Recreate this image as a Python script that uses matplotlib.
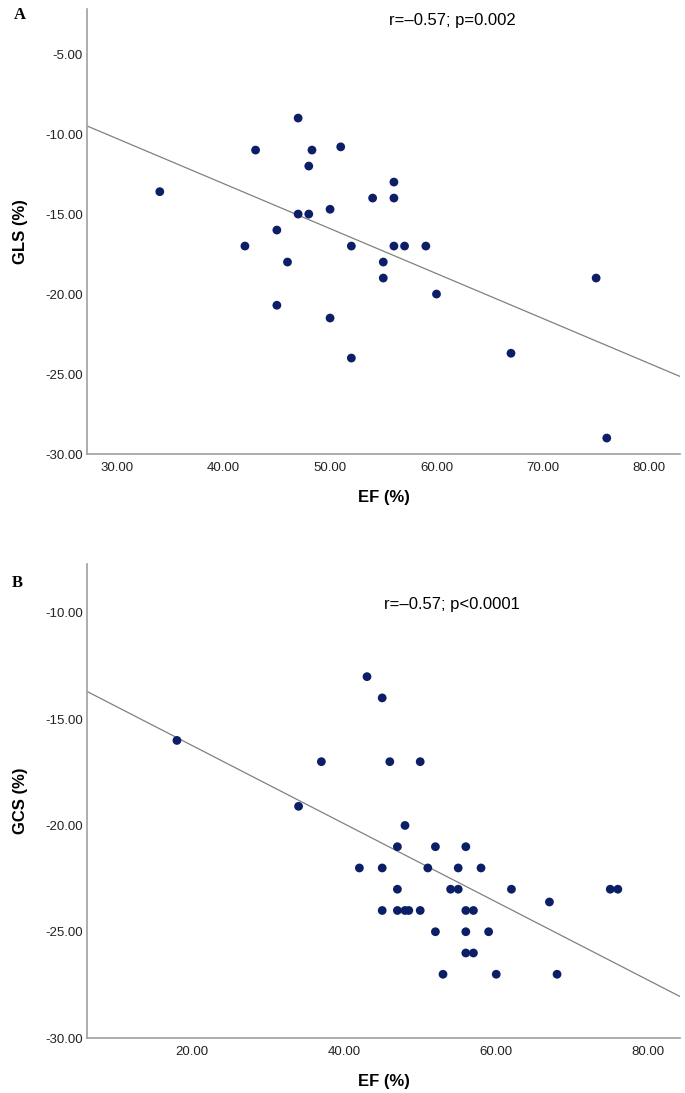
import numpy as np
import matplotlib
matplotlib.use("Agg")
import matplotlib.pyplot as plt

# Panel A: EF vs GLS
ef_a = [34, 47, 43, 48.3, 51, 48, 56, 54, 56, 47, 48, 50, 45, 42, 46, 52, 56, 57,
        59, 55, 55, 60, 75, 45, 50, 52, 67, 76]
gls = [-13.6, -9, -11, -11, -10.8, -12, -13, -14, -14, -15, -15, -14.7, -16, -17,
       -18, -17, -17, -17, -17, -18, -19, -20, -19, -20.7, -21.5, -24, -23.7, -29]

# Panel B: EF vs GCS
ef_b = [18, 43, 45, 37, 46, 50, 34, 48, 47, 52, 56, 42, 45, 51, 55, 58, 47, 54, 55,
        62, 75, 76, 67, 45, 47, 48, 48.5, 50, 56, 57, 52, 56, 59, 56, 57, 53, 60, 68]
gcs = [-16, -13, -14, -17, -17, -17, -19.1, -20, -21, -21, -21, -22, -22, -22, -22,
       -22, -23, -23, -23, -23, -23, -23, -23.6, -24, -24, -24, -24, -24, -24, -24,
       -25, -25, -25, -26, -26, -27, -27, -27]

fit_a = (-0.281, -1.86)     # slope, intercept
fit_b = (-0.184, -12.56)

ann_a = "r=\u20130.57; p=0.002"
ann_b = "r=\u20130.57; p<0.0001"

dot_color = "#0c1f66"
line_color = "#808080"
spine_color = "#a0a0a0"

fig = plt.figure(figsize=(6.85, 10.93), dpi=100)


def panel(rect, x, y, fit, xlim, ylim, xticks, yticks, ylabel, ann, ann_y):
    ax = fig.add_axes(rect)
    xs = np.array(xlim)
    ax.plot(xs, fit[0] * xs + fit[1], color=line_color, lw=0.9, zorder=1)
    ax.scatter(x, y, s=40, color=dot_color, edgecolors="none", zorder=2)
    ax.set_xlim(*xlim)
    ax.set_ylim(*ylim)
    ax.set_xticks(xticks)
    ax.set_yticks(yticks)
    ax.set_xticklabels([f"{t:.2f}" for t in xticks], family="Liberation Sans", fontsize=9.5)
    ax.set_yticklabels([f"{t:.2f}" for t in yticks], family="Liberation Sans", fontsize=9.5)
    ax.tick_params(axis="y", length=0, pad=3, colors="#222222")
    ax.tick_params(axis="x", length=0, pad=6, colors="#222222")
    for s in ("top", "right"):
        ax.spines[s].set_visible(False)
    for s in ("left", "bottom"):
        ax.spines[s].set_color(spine_color)
        ax.spines[s].set_linewidth(1.2)
    ax.set_xlabel("EF (%)", fontsize=12, fontweight="bold", family="Liberation Sans",
                  labelpad=11)
    ax.set_ylabel(ylabel, fontsize=12, fontweight="bold", family="Liberation Sans",
                  labelpad=12)
    fig.text(0.66, ann_y, ann, fontsize=12, family="Liberation Sans",
             ha="center", va="center")
    return ax


panel([0.127, 0.5846, 0.866, 0.4072], ef_a, gls, fit_a, (27.16, 82.9), (-30, -2.18),
      [30, 40, 50, 60, 70, 80], [-30, -25, -20, -15, -10, -5], "GLS (%)",
      ann_a, 1 - 21 / 1093)
panel([0.127, 0.0503, 0.866, 0.4337], ef_b, gcs, fit_b, (6.17, 84.2), (-30, -7.7),
      [20, 40, 60, 80], [-30, -25, -20, -15, -10], "GCS (%)",
      ann_b, 1 - 604 / 1093)

fig.text(20 / 685, 1 - 15 / 1093, "A", fontsize=12, fontweight="bold",
         family="Liberation Serif", ha="center", va="center")
fig.text(17 / 685, 1 - 583 / 1093, "B", fontsize=12, fontweight="bold",
         family="Liberation Serif", ha="center", va="center")

fig.savefig("out.png", dpi=100)
